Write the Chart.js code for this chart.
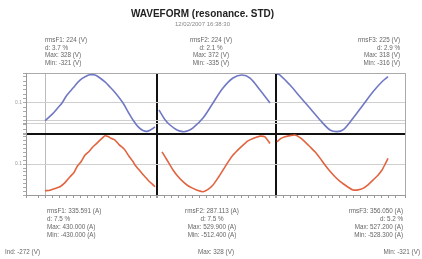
<!DOCTYPE html>
<html>
<head>
<meta charset="utf-8">
<script src="https://cdn.jsdelivr.net/npm/chart.js@4/dist/chart.umd.min.js"></script>
<style>
  body { margin: 0; background: #fff; }
  #wrap { position: relative; width: 422px; height: 259px; overflow: hidden; }
  canvas { position: absolute; left: 0; top: 0; }
  .info {
    position: absolute; font-family: 'Liberation Sans', Arial, sans-serif;
    font-size: 6.3px; line-height: 7.7px; color: #666; white-space: pre;
  }
  .foot { position: absolute; top: 248px; font-family: 'Liberation Sans', Arial, sans-serif;
    font-size: 6.3px; color: #666; white-space: pre; }
</style>
</head>
<body>
<div id="wrap">
  <canvas id="waveChart" width="422" height="259"></canvas>

  <div class="info" style="left:45px; top:36px;">rmsF1: 224 (V)
d: 3.7 %
Max: 328 (V)
Min: -321 (V)</div>
  <div class="info" style="left:161px; width:100px; top:36px; text-align:center;">rmsF2: 224 (V)
d: 2.1 %
Max: 372 (V)
Min: -335 (V)</div>
  <div class="info" style="right:22px; top:36px; text-align:right;">rmsF3: 225 (V)
d: 2.9 %
Max: 318 (V)
Min: -316 (V)</div>

  <div class="info" style="left:47px; top:207px; line-height:8px;">rmsF1: 335.591 (A)
d: 7.5 %
Max: 430.000 (A)
Min: -430.000 (A)</div>
  <div class="info" style="left:162px; width:100px; top:207px; line-height:8px; text-align:center;">rmsF2: 287.113 (A)
d: 7.5 %
Max: 529.900 (A)
Min: -512.400 (A)</div>
  <div class="info" style="right:19px; top:207px; line-height:8px; text-align:right;">rmsF3: 356.050 (A)
d: 5.2 %
Max: 527.200 (A)
Min: -528.300 (A)</div>

  <div class="foot" style="left:5px;">Ind: -272 (V)</div>
  <div class="foot" style="left:166px; width:100px; text-align:center;">Max: 328 (V)</div>
  <div class="foot" style="right:2px;">Min: -321 (V)</div>
</div>

<script>
// voltage, one capture per phase (x = sample position)
const VOLT_T1 = [0, 7, 14, 17, 22, 28, 35, 42, 45, 50, 55, 60, 65, 70, 78, 84, 88, 93, 98, 103, 110];
const VOLT_F1 = [-202, -130, -40, 0, 91, 170, 262, 310, 322, 320, 285, 240, 182, 120, 0, -120, -194, -270, -315, -321, -274];
const VOLT_T2 = [114, 116, 120, 125, 132, 138, 143, 148, 158, 168, 178, 188, 197, 205, 215, 225];
const VOLT_F2 = [-80, -118, -190, -251, -308, -327, -318, -285, -171, 0, 171, 285, 319, 285, 148, 0];
const VOLT_T3 = [232, 235, 245, 255, 265, 275, 285, 292, 298, 308, 318, 328, 337, 343];
const VOLT_F3 = [330, 319, 205, 72, -61, -194, -308, -327, -308, -175, -23, 129, 243, 300];

// current
const CURR_T1 = [0, 5, 10, 15, 20, 25, 29, 32, 36, 40, 44, 48, 52, 55, 58, 60, 63, 66, 70, 74, 78, 80, 84, 88, 90, 94, 97, 100, 104, 107, 110];
const CURR_F1 = [-405, -398, -372, -344, -282, -192, -128, -41, 35, 136, 190, 262, 318, 364, 405, 429, 418, 392, 364, 296, 246, 212, 118, 38, -15, -88, -142, -192, -262, -300, -344];
const CURR_T2 = [117, 122, 128, 133, 138, 143, 148, 153, 158, 163, 168, 173, 178, 183, 188, 193, 198, 203, 208, 212, 215, 220, 225];
const CURR_F2 = [186, 61, -91, -190, -268, -330, -369, -402, -420, -385, -318, -210, -91, 30, 136, 215, 288, 352, 389, 410, 424, 414, 313];
const CURR_T3 = [232, 236, 240, 245, 250, 255, 260, 265, 270, 275, 280, 285, 290, 295, 300, 304, 308, 313, 318, 323, 328, 333, 337, 340, 343];
const CURR_F3 = [338, 390, 414, 432, 440, 402, 338, 262, 186, 90, -15, -110, -192, -262, -318, -360, -394, -392, -369, -315, -243, -170, -91, -5, 86];

// axis ticks
const VOLT_TICKS = [-355, -300, -250, -230, -200, -150, -100, -50, 0, 50, 100, 150, 200, 250, 300, 340];
const CURR_TICKS = [-470, -420, -360, -300, -240, -180, -120, -60, 0, 60, 120, 180, 240, 300, 360, 420, 455];
const PHASE_SPLITS = [112, 231];
const ZERO_LABEL = '0.1';

const BLUE = '#7178c4';
const RED = '#e1643f';

function zip(xs, ys) {
    return xs.map((x, i) => ({ x: x, y: ys[i] }));
}

function makeSet(xs, ys, color, axis) {
    return {
        data: zip(xs, ys),
        borderColor: color,
        borderWidth: 1.6,
        pointRadius: 0,
        tension: axis == 'yV' ? 0.35 : 0.15,
        yAxisID: axis
    };
}

function fixedTicks(list) {
    return function(scale) {
        scale.ticks = list.map(v => ({ value: v }));
    };
}

const datasets = [
    makeSet(VOLT_T1, VOLT_F1, BLUE, 'yV'),
    makeSet(VOLT_T2, VOLT_F2, BLUE, 'yV'),
    makeSet(VOLT_T3, VOLT_F3, BLUE, 'yV'),
    makeSet(CURR_T1, CURR_F1, RED, 'yI'),
    makeSet(CURR_T2, CURR_F2, RED, 'yI'),
    makeSet(CURR_T3, CURR_F3, RED, 'yI')
];

const config = {
    type: 'line',
    data: { datasets: datasets },
    options: {
        responsive: false,
        animation: false,
        devicePixelRatio: 1,
        layout: { padding: { left: 0, right: 17, top: 0, bottom: 60 } },
        plugins: {
            legend: { display: false },
            tooltip: { enabled: false },
            title: {
                display: true,
                text: 'WAVEFORM (resonance. STD)',
                color: '#222',
                font: { family: "'Liberation Sans', Arial, sans-serif", size: 10, weight: 'bold' },
                padding: { top: 8, bottom: 0 }
            },
            subtitle: {
                display: true,
                text: '12/02/2007 16:38:30',
                color: '#888',
                font: { family: "'Liberation Sans', Arial, sans-serif", size: 6 },
                padding: { top: 1, bottom: 45 }
            }
        },
        scales: {
            x: {
                type: 'linear',
                min: -19,
                max: 360,
                afterFit: s => { s.height = 4; },
                ticks: { display: false, stepSize: 7, maxTicksLimit: 200, autoSkip: false },
                border: { color: '#999' },
                grid: {
                    tickLength: 3,
                    tickColor: '#999',
                    color: ctx => {
                        const v = ctx.tick.value;
                        if (PHASE_SPLITS.includes(v)) return '#111';
                        if (v == 0) return '#bbb';
                        if (v == 360) return '#aaa';
                        return 'rgba(0,0,0,0)';
                    },
                    lineWidth: ctx => PHASE_SPLITS.includes(ctx.tick.value) ? 2 : 1
                }
            },
            yI: {
                type: 'linear',
                position: 'left',
                stack: 'panel',
                stackWeight: 1,
                min: -470,
                max: 455,
                afterFit: s => { s.width = 26; },
                afterBuildTicks: fixedTicks(CURR_TICKS),
                ticks: {
                    autoSkip: false,
                    padding: 1,
                    color: '#999',
                    font: { size: 5, family: "'Liberation Sans', Arial, sans-serif" },
                    callback: v => v == 0 ? ZERO_LABEL : ''
                },
                border: { color: '#999' },
                grid: {
                    tickLength: 3,
                    tickColor: '#aaa',
                    color: ctx => ctx.tick.value == 0 ? '#cfcfcf' : 'rgba(0,0,0,0)'
                }
            },
            yV: {
                type: 'linear',
                position: 'left',
                stack: 'panel',
                stackWeight: 1,
                min: -355,
                max: 340,
                afterFit: s => { s.width = 26; },
                afterBuildTicks: fixedTicks(VOLT_TICKS),
                ticks: {
                    autoSkip: false,
                    padding: 1,
                    color: '#999',
                    font: { size: 5, family: "'Liberation Sans', Arial, sans-serif" },
                    callback: v => v == 0 ? ZERO_LABEL : ''
                },
                border: { color: '#999' },
                grid: {
                    tickLength: 3,
                    tickColor: '#aaa',
                    color: ctx => {
                        const v = ctx.tick.value;
                        if (v == -355) return '#111';
                        if (v == 340) return '#aaa';
                        if (v == 0 || v == -200 || v == -230) return '#cfcfcf';
                        return 'rgba(0,0,0,0)';
                    },
                    lineWidth: ctx => ctx.tick.value == -355 ? 2 : 1
                }
            }
        }
    }
};

var chart = new Chart('waveChart', config);
</script>
</body>
</html>
